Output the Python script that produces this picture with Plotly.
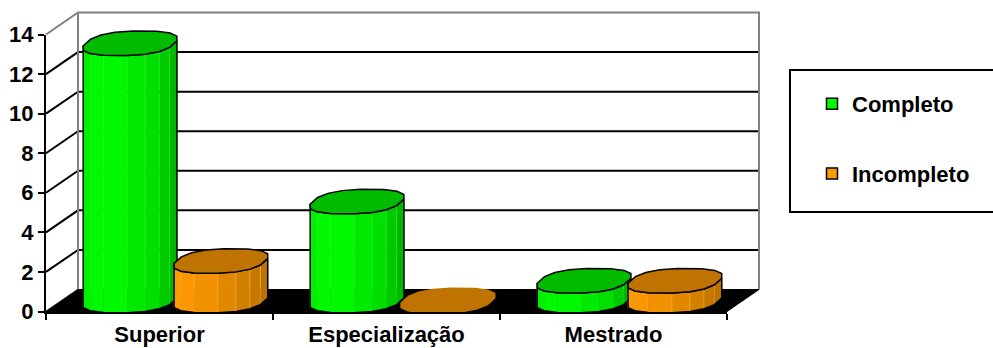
import math
import plotly.graph_objects as go

categories = ["Superior", "Especialização", "Mestrado"]
completo = [13, 5, 1]
incompleto = [2, 0, 1]
y_ticks = [0, 2, 4, 6, 8, 10, 12, 14]

# figure frame (pixels) -------------------------------------------------
W, H = 993, 348
L, R, T, B = 46, 727, 34.5, 311.5
X_MAX, Y_MAX = len(categories), 14
PX = (R - L) / X_MAX          # pixels per category
PY = (B - T) / Y_MAX          # pixels per unit
DEPTH_X = 32 / PX             # 3-D depth vector in data units
DEPTH_Y = 22 / PY
BAR_HALF = 0.197
N = 16
FONT = "Liberation Sans, Arial, sans-serif"
FS = 22

GREEN = dict(top="#00BB00", stops=[(0, 238, 0), (0, 255, 0), (0, 238, 0), (0, 222, 0), (0, 176, 0)], edge="#19f019")
ORANGE = dict(top="#BF7300", stops=[(255, 153, 0), (250, 150, 0), (232, 140, 0), (210, 126, 0), (184, 112, 0)], edge="#f0b040")


def shade(stops, f):
    p = f * (len(stops) - 1)
    i = min(int(p), len(stops) - 2)
    u = p - i
    c = [round(a + (b - a) * u) for a, b in zip(stops[i], stops[i + 1])]
    return "rgb(%d,%d,%d)" % tuple(c)


def squarish(v):
    return math.copysign(abs(v) ** 0.8, v)


fig = go.Figure()


def poly(xs, ys, fill=None, line="rgba(0,0,0,0)", width=0):
    fig.add_trace(go.Scatter(
        x=xs, y=ys, mode="lines", showlegend=False, hoverinfo="skip",
        fill="toself" if fill else "none", fillcolor=fill,
        line=dict(color=line, width=width, simplify=False)))


# walls and grid --------------------------------------------------------
for v in y_ticks[1:-1]:
    poly([0, DEPTH_X, X_MAX + DEPTH_X], [v, v + DEPTH_Y, v + DEPTH_Y], line="black", width=2)
poly([0, DEPTH_X, X_MAX + DEPTH_X, X_MAX + DEPTH_X],
     [Y_MAX, Y_MAX + DEPTH_Y, Y_MAX + DEPTH_Y, DEPTH_Y], line="#808080", width=2)
poly([DEPTH_X, DEPTH_X], [Y_MAX + DEPTH_Y, DEPTH_Y], line="#808080", width=2)
poly([0, DEPTH_X], [0, DEPTH_Y], line="#808080", width=2)
poly([0, DEPTH_X, X_MAX + DEPTH_X, X_MAX, 0], [0, DEPTH_Y, DEPTH_Y, 0, 0], fill="black", line="black", width=1)


# cylinders -------------------------------------------------------------
def cylinder(cx, value, col):
    mx, my = cx + DEPTH_X / 2, DEPTH_Y / 2
    ax, bx, by = BAR_HALF, DEPTH_X * 0.38, DEPTH_Y * 0.56
    ring = []
    for k in range(N):
        t = 2 * math.pi * (k + 0.35) / N
        c, s = squarish(math.cos(t)), squarish(math.sin(t))
        ring.append((mx + ax * c + bx * s, by * s))
    left = min(range(N), key=lambda k: ring[k][0])
    right = max(range(N), key=lambda k: ring[k][0])
    front = []
    k = left
    while True:
        front.append(ring[k])
        if k == right:
            break
        k = (k + 1) % N
    if value > 0:
        xa, xb = front[0][0], front[-1][0]
        for a, b in zip(front, front[1:]):
            f = ((a[0] + b[0]) / 2 - xa) / (xb - xa)
            poly([a[0], b[0], b[0], a[0], a[0]],
                 [my + a[1], my + b[1], my + value + b[1], my + value + a[1], my + a[1]],
                 fill=shade(col["stops"], f), line=col["edge"], width=0.5)
        xs = [p[0] for p in front] + [p[0] for p in reversed(front)] + [front[0][0]]
        ys = [my + p[1] for p in front] + [my + value + p[1] for p in reversed(front)] + [my + front[0][1]]
        poly(xs, ys, line="black", width=1.5)
    xs = [p[0] for p in ring] + [ring[0][0]]
    ys = [my + value + p[1] for p in ring] + [my + value + ring[0][1]]
    poly(xs, ys, fill=col["top"], line="black" if value > 0 else col["top"], width=1.5)


for i in range(len(categories)):
    cylinder(i + 0.5 - 0.2, completo[i], GREEN)
    cylinder(i + 0.5 + 0.2, incompleto[i], ORANGE)

# legend entries --------------------------------------------------------
for name, c in (("Completo", "#00FF00"), ("Incompleto", "#FF9900")):
    fig.add_trace(go.Scatter(x=[None], y=[None], mode="markers", name=name, legendgroup=name,
                             marker=dict(symbol="square", size=11, color=c, line=dict(color="black", width=1.5))))

# invisible trace that makes the front axes (with ticks and labels) appear
fig.add_trace(go.Scatter(x=[0], y=[0], xaxis="x2", yaxis="y2", mode="markers", showlegend=False,
                         hoverinfo="skip", marker=dict(opacity=0, size=1)))

fig.update_layout(
    width=W, height=H, margin=dict(l=0, r=0, t=0, b=0, pad=0, autoexpand=False),
    paper_bgcolor="white", plot_bgcolor="rgba(0,0,0,0)",
    font=dict(family=FONT, size=FS, color="black", weight="bold"),
    showlegend=True,
    legend=dict(x=812 / W, y=1 - 83 / H, xanchor="left", yanchor="top",
                bgcolor="rgba(0,0,0,0)", borderwidth=0, tracegroupgap=38,
                font=dict(family=FONT, size=FS, color="black", weight="bold")),
    shapes=[dict(type="rect", xref="paper", yref="paper", layer="below",
                 x0=790 / W, x1=1000 / W, y0=1 - 212 / H, y1=1 - 70 / H,
                 line=dict(color="black", width=2), fillcolor="white")],
    # full-page drawing axes, same scale as the front axes
    xaxis=dict(domain=[0, 1], range=[-L / PX, (W - L) / PX], visible=False, fixedrange=True),
    yaxis=dict(domain=[0, 1], range=[-(H - B) / PY, B / PY], visible=False, fixedrange=True),
    xaxis2=dict(domain=[L / W, R / W], anchor="y2", range=[0, X_MAX], tickmode="array",
                tickvals=[i + 0.5 for i in range(X_MAX)], ticktext=categories, ticks="",
                tickfont=dict(family=FONT, size=22, color="black", weight="bold"),
                ticklabelstandoff=2, showgrid=False, zeroline=False,
                showline=True, linecolor="black", linewidth=2,
                minor=dict(tickmode="array", tickvals=list(range(X_MAX + 1)), ticks="outside",
                           ticklen=6, tickwidth=2, tickcolor="black", showgrid=False)),
    yaxis2=dict(domain=[1 - B / H, 1 - T / H], anchor="x2", range=[0, Y_MAX], tickmode="array",
                tickvals=y_ticks, ticks="outside", ticklen=6,
                tickwidth=2, tickcolor="black", showgrid=False, zeroline=False, showline=True,
                linecolor="black", linewidth=2),
)

fig.write_html("out.html", post_script="document.body.style.margin='0';window.dispatchEvent(new Event('resize'));",
               config=dict(displayModeBar=False))
